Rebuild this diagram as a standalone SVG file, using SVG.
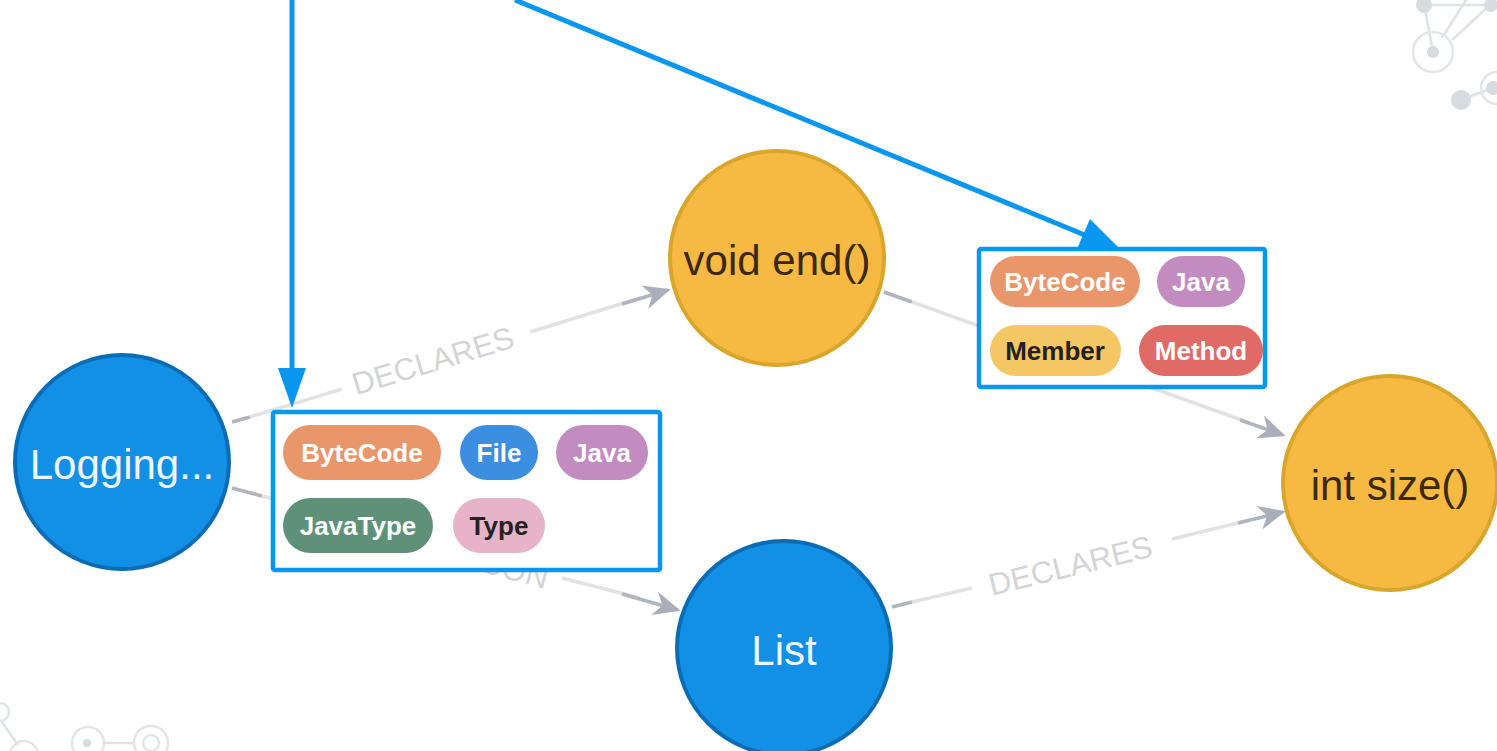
<svg xmlns="http://www.w3.org/2000/svg" width="1497" height="751" viewBox="0 0 1497 751">
  <defs>
    <marker id="grayArrow" viewBox="0 0 10 10" refX="9" refY="5" markerWidth="27" markerHeight="27" markerUnits="userSpaceOnUse" orient="auto">
      <path d="M0,0.5 L10,5 L0,9.5 L3,5 Z" fill="#a9aeba"/>
    </marker>
    <style>
      .bg-line { stroke: #dfe3e6; stroke-width: 2.5; fill: none; }
      .bg-ring { stroke: #e3e6e8; stroke-width: 2.5; fill: none; }
      .bg-dot { fill: #d6dcdf; }
      .edge { stroke: #e2e2e4; stroke-width: 3.5; fill: none; }
      .edge-end { stroke: #b0b4bd; stroke-width: 3.5; fill: none; }
      .edge-label { font-family: "Liberation Sans", Arial, sans-serif; font-size: 31px; fill: #d4d4d6; }
      .node-blue { fill: #1190e6; stroke: #0a6cb5; stroke-width: 4; }
      .node-yellow { fill: #f6b942; stroke: #d9a52a; stroke-width: 4; }
      .node-text { font-family: "Liberation Sans", Arial, sans-serif; font-size: 42px; text-anchor: middle; dominant-baseline: central; }
      .light { fill: #eef7ff; }
      .dark { fill: #3a2a12; }
      .callout { fill: #ffffff; stroke: #0896ee; stroke-width: 4.5; }
      .pointer { stroke: #0896ee; stroke-width: 5; fill: none; }
      .pointer-head { fill: #0896ee; }
      .pill-text { font-family: "Liberation Sans", Arial, sans-serif; font-size: 26px; font-weight: bold; text-anchor: middle; dominant-baseline: central; fill: #ffffff; }
      .pill-text.ink { fill: #222222; }
    </style>
  </defs>

  <rect width="1497" height="751" fill="#ffffff"/>

  <!-- faint network ornaments in the corners -->
  <g id="ornament-top-right">
    <line class="bg-line" x1="1424" y1="5" x2="1492" y2="5"/>
    <line class="bg-line" x1="1424" y1="5" x2="1433" y2="52"/>
    <line class="bg-line" x1="1466" y1="0" x2="1442" y2="38"/>
    <line class="bg-line" x1="1490" y1="5" x2="1452" y2="40"/>
    <circle class="bg-dot" cx="1424" cy="5" r="8"/>
    <circle class="bg-dot" cx="1491" cy="5" r="7"/>
    <circle class="bg-ring" cx="1433" cy="52" r="20"/>
    <circle class="bg-dot" cx="1433" cy="52" r="6"/>
    <line class="bg-line" x1="1461" y1="100" x2="1492" y2="88"/>
    <circle class="bg-dot" cx="1461" cy="100" r="10"/>
    <circle class="bg-dot" cx="1493" cy="88" r="7"/>
    <circle class="bg-ring" cx="1497" cy="88" r="16"/>
  </g>
  <g id="ornament-bottom-left">
    <circle class="bg-ring" cx="0" cy="712" r="9"/>
    <line class="bg-line" x1="2" y1="722" x2="18" y2="745"/>
    <circle class="bg-ring" cx="24" cy="755" r="14"/>
    <circle class="bg-ring" cx="88" cy="743" r="16"/>
    <circle class="bg-dot" cx="87" cy="743" r="4"/>
    <line class="bg-line" x1="104" y1="743" x2="134" y2="743"/>
    <circle class="bg-ring" cx="151" cy="743" r="17"/>
    <circle class="bg-ring" cx="151" cy="743" r="8"/>
  </g>

  <!-- relationships -->
  <g id="connectors">
    <!-- Logging... -> void end() -->
    <line class="edge-end" x1="232" y1="422" x2="250" y2="417"/>
    <line class="edge" x1="250" y1="417" x2="342" y2="389"/>
    <line class="edge" x1="530" y1="332" x2="640" y2="298"/>
    <line class="edge-end" x1="622" y1="304" x2="668" y2="290" marker-end="url(#grayArrow)"/>
    <text class="edge-label" text-anchor="middle" transform="translate(436,371) rotate(-16.8)">DECLARES</text>

    <!-- Logging... -> List -->
    <line class="edge-end" x1="232" y1="488" x2="262" y2="496"/>
    <line class="edge" x1="262" y1="496" x2="290" y2="503"/>
    <line class="edge" x1="562" y1="578" x2="640" y2="598"/>
    <line class="edge-end" x1="622" y1="594" x2="678" y2="610" marker-end="url(#grayArrow)"/>
    <text class="edge-label" text-anchor="end" transform="translate(545,589) rotate(15.1)">CON</text>

    <!-- void end() -> int size() -->
    <line class="edge-end" x1="884" y1="292" x2="912" y2="302"/>
    <line class="edge" x1="912" y1="302" x2="1250" y2="423"/>
    <line class="edge-end" x1="1240" y1="420" x2="1283" y2="435" marker-end="url(#grayArrow)"/>

    <!-- List -> int size() -->
    <line class="edge-end" x1="892" y1="607" x2="912" y2="602"/>
    <line class="edge" x1="912" y1="602" x2="972" y2="588"/>
    <line class="edge" x1="1172" y1="539" x2="1250" y2="520"/>
    <line class="edge-end" x1="1238" y1="523" x2="1283" y2="512" marker-end="url(#grayArrow)"/>
    <text class="edge-label" text-anchor="middle" transform="translate(1073,576) rotate(-13.7)">DECLARES</text>
  </g>

  <!-- graph nodes -->
  <g id="node-logging">
    <circle class="node-blue" cx="122" cy="462" r="107"/>
    <text class="node-text light" x="122" y="464">Logging...</text>
  </g>
  <g id="node-void-end">
    <circle class="node-yellow" cx="777" cy="258" r="107"/>
    <text class="node-text dark" x="777" y="260">void end()</text>
  </g>
  <g id="node-int-size">
    <circle class="node-yellow" cx="1390" cy="483" r="107"/>
    <text class="node-text dark" x="1390" y="485">int size()</text>
  </g>
  <g id="node-list">
    <circle class="node-blue" cx="784" cy="648" r="107"/>
    <text class="node-text light" x="784" y="650">List</text>
  </g>

  <!-- label callouts with pointers -->
  <g id="pointer-type-labels">
    <line class="pointer" x1="292" y1="0" x2="292" y2="372"/>
    <polygon class="pointer-head" points="278,368 306,368 292,408"/>
  </g>
  <g id="pointer-method-labels">
    <line class="pointer" x1="515" y1="0" x2="1092" y2="238"/>
    <polygon class="pointer-head" points="1077,249 1090,219 1122,251"/>
  </g>

  <g id="labels-logging">
    <rect class="callout" x="273" y="412" width="387" height="158" rx="2"/>
    <rect x="283" y="425" width="158" height="55" rx="27.5" fill="#e9966b"/>
    <text class="pill-text" x="362" y="453">ByteCode</text>
    <rect x="460" y="425" width="78" height="55" rx="27.5" fill="#3b8ee0"/>
    <text class="pill-text" x="499" y="453">File</text>
    <rect x="556" y="425" width="92" height="55" rx="27.5" fill="#c28cc1"/>
    <text class="pill-text" x="602" y="453">Java</text>
    <rect x="283" y="498" width="150" height="55" rx="27.5" fill="#5f9179"/>
    <text class="pill-text" x="358" y="526">JavaType</text>
    <rect x="453" y="498" width="92" height="55" rx="27.5" fill="#e6b3c8"/>
    <text class="pill-text ink" x="499" y="526">Type</text>
  </g>

  <g id="labels-void-end">
    <rect class="callout" x="979" y="249" width="286" height="138" rx="2"/>
    <rect x="990" y="256" width="150" height="51" rx="25.5" fill="#e9966b"/>
    <text class="pill-text" x="1065" y="282">ByteCode</text>
    <rect x="1157" y="256" width="88" height="51" rx="25.5" fill="#c28cc1"/>
    <text class="pill-text" x="1201" y="282">Java</text>
    <rect x="990" y="325" width="131" height="51" rx="25.5" fill="#f5c664"/>
    <text class="pill-text ink" x="1055" y="351">Member</text>
    <rect x="1139" y="325" width="124" height="51" rx="25.5" fill="#df6a66"/>
    <text class="pill-text" x="1201" y="351">Method</text>
  </g>
</svg>
